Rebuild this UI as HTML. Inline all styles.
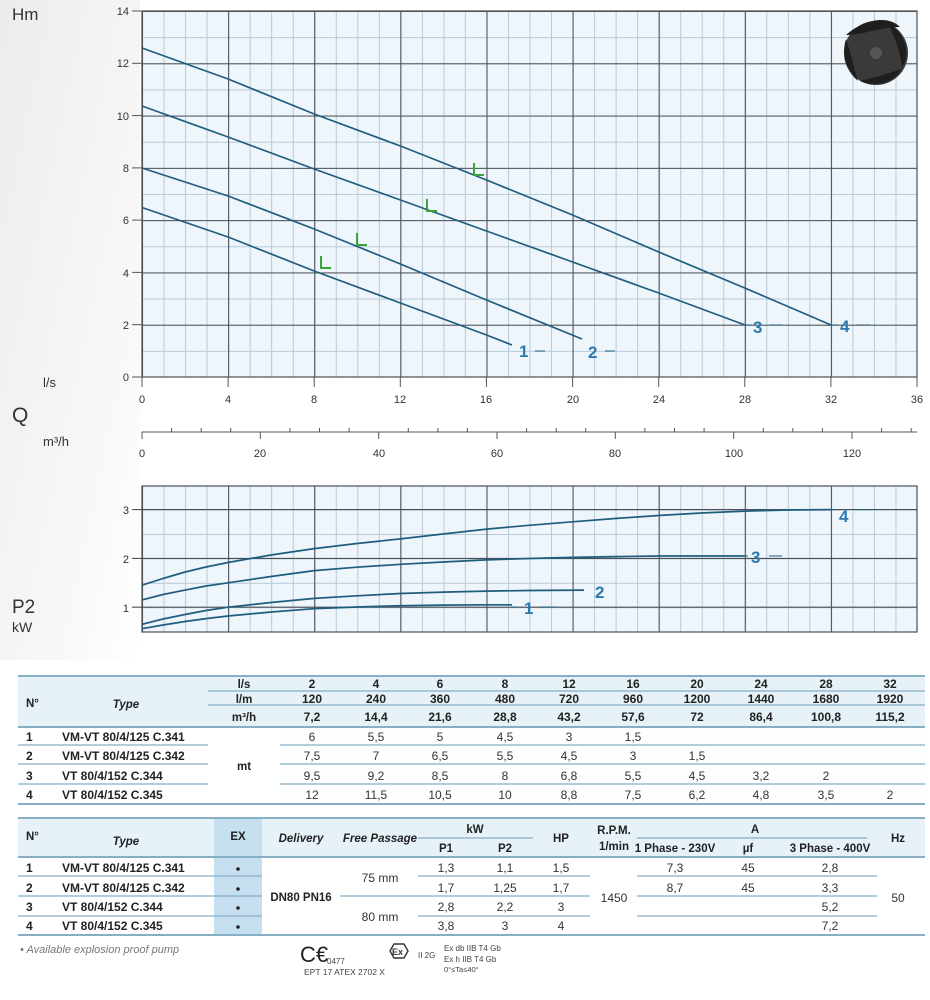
<!DOCTYPE html>
<html><head><meta charset="utf-8"><style>
html,body{margin:0;padding:0;background:#fff;}
svg{display:block;font-family:"Liberation Sans",sans-serif;}
.t{font-size:11px;fill:#333}
.b{font-weight:bold;font-size:12px;fill:#222}
.h{font-weight:bold;font-size:11.5px;fill:#222}
.n{font-size:12px;fill:#333}
.lab{font-weight:bold;font-size:17px;fill:#2a7ab0}
</style></head><body>
<svg width="930" height="1000" viewBox="0 0 930 1000">
<defs>
<linearGradient id="bg" x1="0" y1="0" x2="1" y2="1">
<stop offset="0" stop-color="#ececec"/><stop offset="0.7" stop-color="#f8f8f8"/><stop offset="1" stop-color="#ffffff"/></linearGradient>
<pattern id="mv" x="142" y="0" width="21.528" height="20" patternUnits="userSpaceOnUse"><line x1="0.5" y1="0" x2="0.5" y2="20" stroke="#b7cad8" stroke-width="1"/></pattern>
<pattern id="Mv" x="142" y="0" width="86.111" height="20" patternUnits="userSpaceOnUse"><line x1="0.5" y1="0" x2="0.5" y2="20" stroke="#4a4f55" stroke-width="1.1"/></pattern>
<pattern id="mh" x="0" y="11" width="20" height="26.143" patternUnits="userSpaceOnUse"><line x1="0" y1="0.5" x2="20" y2="0.5" stroke="#b7cad8" stroke-width="1"/></pattern>
<pattern id="Mh" x="0" y="11" width="20" height="52.286" patternUnits="userSpaceOnUse"><line x1="0" y1="0.5" x2="20" y2="0.5" stroke="#4a4f55" stroke-width="1.1"/></pattern>
<pattern id="mh2" x="0" y="485.2" width="20" height="24.4" patternUnits="userSpaceOnUse"><line x1="0" y1="0.5" x2="20" y2="0.5" stroke="#b7cad8" stroke-width="1"/></pattern>
</defs>
<rect x="0" y="0" width="140" height="660" fill="url(#bg)"/>

<!-- TOP CHART -->
<rect x="142" y="11" width="775" height="366" fill="#eef5fb"/>
<rect x="142" y="11" width="775" height="366" fill="url(#mv)"/>
<rect x="142" y="11" width="775" height="366" fill="url(#mh)"/>
<rect x="142" y="11" width="775" height="366" fill="url(#Mv)"/>
<rect x="142" y="11" width="775" height="366" fill="url(#Mh)"/>
<rect x="142" y="11" width="775" height="366" fill="none" stroke="#4a4f55" stroke-width="1.2"/>
<g stroke="#555" stroke-width="1">
<line x1="132" y1="11" x2="142" y2="11"/><line x1="132" y1="63.3" x2="142" y2="63.3"/><line x1="132" y1="115.6" x2="142" y2="115.6"/><line x1="132" y1="167.9" x2="142" y2="167.9"/><line x1="132" y1="220.1" x2="142" y2="220.1"/><line x1="132" y1="272.4" x2="142" y2="272.4"/><line x1="132" y1="324.7" x2="142" y2="324.7"/><line x1="132" y1="377" x2="142" y2="377"/>
<line x1="142" y1="377" x2="142" y2="387"/><line x1="228.1" y1="377" x2="228.1" y2="387"/><line x1="314.2" y1="377" x2="314.2" y2="387"/><line x1="400.3" y1="377" x2="400.3" y2="387"/><line x1="486.4" y1="377" x2="486.4" y2="387"/><line x1="572.6" y1="377" x2="572.6" y2="387"/><line x1="658.7" y1="377" x2="658.7" y2="387"/><line x1="744.8" y1="377" x2="744.8" y2="387"/><line x1="830.9" y1="377" x2="830.9" y2="387"/><line x1="917" y1="377" x2="917" y2="387"/>
</g>
<g class="t" text-anchor="end">
<text x="129" y="15">14</text><text x="129" y="67">12</text><text x="129" y="120">10</text><text x="129" y="172">8</text><text x="129" y="224">6</text><text x="129" y="277">4</text><text x="129" y="329">2</text><text x="129" y="381">0</text>
</g>
<g class="t" text-anchor="middle">
<text x="142" y="403">0</text><text x="228" y="403">4</text><text x="314" y="403">8</text><text x="400" y="403">12</text><text x="486" y="403">16</text><text x="573" y="403">20</text><text x="659" y="403">24</text><text x="745" y="403">28</text><text x="831" y="403">32</text><text x="917" y="403">36</text>
</g>
<text x="12" y="20" font-size="17" fill="#333">Hm</text>
<text x="43" y="387" font-size="13" fill="#333">l/s</text>
<text x="12" y="422" font-size="21" fill="#333">Q</text>
<text x="43" y="446" font-size="13" fill="#333">m³/h</text>

<g fill="none" stroke="#1f5d7e" stroke-width="1.7" stroke-linejoin="round">
<polyline points="142,48 228.1,79 314.2,114 400.4,146 486.5,180 572.6,215 658.7,252 744.8,288 831,325"/>
<polyline points="142,106 228.1,137 314.2,169 400.4,200 486.5,231 572.6,262 658.7,293 745,325"/>
<polyline points="142,168 228.1,196 314.2,229 400.4,264 486.5,300 582,339"/>
<polyline points="142,207.5 228.1,237 314.2,271 400.4,303 486.5,335 512,345"/>
</g>
<g stroke="#1f5d7e" stroke-width="1">
<line x1="831" y1="325" x2="838" y2="325"/><line x1="857" y1="325" x2="870" y2="325"/>
<line x1="745" y1="325" x2="752" y2="325"/><line x1="770" y1="325" x2="782" y2="325"/>
<line x1="535" y1="351" x2="545" y2="351"/><line x1="605" y1="351" x2="615" y2="351"/>
</g>
<text class="lab" x="840" y="332">4</text><text class="lab" x="753" y="333">3</text>
<text class="lab" x="588" y="358">2</text><text class="lab" x="519" y="357">1</text>
<g fill="none" stroke="#3aa33a" stroke-width="2">
<path d="M321,256 V268 H331"/><path d="M357,233 V245 H367"/><path d="M427,199 V211 H437"/><path d="M474,163 V175 H484"/>
</g>
<!-- impeller -->
<g transform="translate(876,53)">
<circle r="32" fill="#3a3a3a"/>
<path d="M-30,-18 C-12,-34 12,-38 24,-26 C4,-26 -12,-18 -30,-18Z" fill="#1e1e1e"/>
<path d="M12,-30 C32,-18 34,4 26,14 C24,-4 18,-16 12,-30Z" fill="#1e1e1e"/>
<path d="M26,16 C16,32 -4,34 -16,28 C0,24 14,20 26,16Z" fill="#1e1e1e"/>
<path d="M-18,28 C-32,16 -34,-2 -30,-14 C-24,4 -22,16 -18,28Z" fill="#1e1e1e"/>
<circle r="6" fill="#555"/>
</g>

<!-- m3/h axis -->
<line x1="142" y1="432" x2="917" y2="432" stroke="#555" stroke-width="1"/>
<g stroke="#555" stroke-width="1">
<line x1="142" y1="432" x2="142" y2="439"/><line x1="260.3" y1="432" x2="260.3" y2="439"/><line x1="378.7" y1="432" x2="378.7" y2="439"/><line x1="497" y1="432" x2="497" y2="439"/><line x1="615.3" y1="432" x2="615.3" y2="439"/><line x1="733.7" y1="432" x2="733.7" y2="439"/><line x1="852" y1="432" x2="852" y2="439"/>
<line x1="171.6" y1="428" x2="171.6" y2="432"/><line x1="201.2" y1="428" x2="201.2" y2="432"/><line x1="230.7" y1="428" x2="230.7" y2="432"/>
<line x1="289.9" y1="428" x2="289.9" y2="432"/><line x1="319.5" y1="428" x2="319.5" y2="432"/><line x1="349.1" y1="428" x2="349.1" y2="432"/>
<line x1="408.3" y1="428" x2="408.3" y2="432"/><line x1="437.9" y1="428" x2="437.9" y2="432"/><line x1="467.4" y1="428" x2="467.4" y2="432"/>
<line x1="526.6" y1="428" x2="526.6" y2="432"/><line x1="556.2" y1="428" x2="556.2" y2="432"/><line x1="585.7" y1="428" x2="585.7" y2="432"/>
<line x1="644.9" y1="428" x2="644.9" y2="432"/><line x1="674.5" y1="428" x2="674.5" y2="432"/><line x1="704.1" y1="428" x2="704.1" y2="432"/>
<line x1="763.3" y1="428" x2="763.3" y2="432"/><line x1="792.8" y1="428" x2="792.8" y2="432"/><line x1="822.4" y1="428" x2="822.4" y2="432"/>
<line x1="881.6" y1="428" x2="881.6" y2="432"/><line x1="911.2" y1="428" x2="911.2" y2="432"/>
</g>
<g class="t" text-anchor="middle">
<text x="142" y="457">0</text><text x="260" y="457">20</text><text x="379" y="457">40</text><text x="497" y="457">60</text><text x="615" y="457">80</text><text x="734" y="457">100</text><text x="852" y="457">120</text>
</g>

<!-- P2 CHART -->
<rect x="142" y="486" width="775" height="146" fill="#eef5fb"/>
<rect x="142" y="486" width="775" height="146" fill="url(#mv)"/>
<rect x="142" y="486" width="775" height="146" fill="url(#mh2)"/>
<rect x="142" y="486" width="775" height="146" fill="url(#Mv)"/>
<g stroke="#4a4f55" stroke-width="1.1">
<line x1="142" y1="509.6" x2="917" y2="509.6"/><line x1="142" y1="558.4" x2="917" y2="558.4"/><line x1="142" y1="607.2" x2="917" y2="607.2"/>
<line x1="132" y1="509.6" x2="142" y2="509.6"/><line x1="132" y1="558.4" x2="142" y2="558.4"/><line x1="132" y1="607.2" x2="142" y2="607.2"/>
</g>
<rect x="142" y="486" width="775" height="146" fill="none" stroke="#4a4f55" stroke-width="1.2"/>
<g class="t" text-anchor="end"><text x="129" y="514">3</text><text x="129" y="563">2</text><text x="129" y="612">1</text></g>
<text x="12" y="613" font-size="19" fill="#333">P2</text>
<text x="12" y="632" font-size="14" fill="#333">kW</text>
<g fill="none" stroke="#1f5d7e" stroke-width="1.7" stroke-linejoin="round">
<polyline points="142,585.2 163,578.5 185.1,572 206,567 228.1,562.5 271,555 314.2,548.6 357,543.5 400.4,538.9 443,534 486.5,529.1 529,525.3 572.6,521.8 615,518.5 658.7,515.5 701,513 744.8,511.1 788,510 831,509.6"/>
<polyline points="142,599.9 163,594.5 185.1,590.1 206,586 228.1,582.8 271,576.5 314.2,570.6 357,567.2 400.4,564.3 443,562 486.5,559.9 529,558.5 572.6,557.4 615,556.6 658.7,556 744.8,556"/>
<polyline points="142,624.3 163,619 185,614.5 206,610.5 228.1,607.2 271,602.5 314.2,598.4 357,595.8 400.4,593.5 443,592.1 486.5,591.1 529,590.5 584,590.1"/>
<polyline points="142,628.7 163,625 185,621.5 206,618.6 228.1,616 271,612 314.2,608.7 357,607 400.4,605.7 443,605.1 486.5,604.8 512,604.8"/>
</g>
<g stroke="#1f5d7e" stroke-width="1">
<line x1="831" y1="509.6" x2="836" y2="509.6"/><line x1="857" y1="509.6" x2="870" y2="509.6"/>
<line x1="745" y1="556" x2="748" y2="556"/><line x1="769" y1="556" x2="782" y2="556"/>
<line x1="512" y1="607" x2="517" y2="607"/><line x1="540" y1="607" x2="555" y2="607"/>
</g>
<text class="lab" x="839" y="522">4</text><text class="lab" x="751" y="563">3</text>
<text class="lab" x="595" y="598">2</text><text class="lab" x="524" y="614">1</text>

<!-- TABLE 1 -->
<rect x="18" y="676" width="907" height="51" fill="#e6f1f8"/>
<rect x="280" y="727" width="645" height="77" fill="#fdfeff"/>
<g stroke="#86aec4" stroke-width="1.3">
<line x1="18" y1="676" x2="925" y2="676" stroke-width="2"/>
<line x1="208" y1="691" x2="925" y2="691"/><line x1="208" y1="705" x2="925" y2="705"/>
<line x1="18" y1="727" x2="925" y2="727" stroke-width="2"/>
<line x1="18" y1="745" x2="208" y2="745"/><line x1="280" y1="745" x2="925" y2="745"/>
<line x1="18" y1="764" x2="208" y2="764"/><line x1="280" y1="764" x2="925" y2="764"/>
<line x1="18" y1="784" x2="208" y2="784"/><line x1="280" y1="784" x2="925" y2="784"/>
<line x1="18" y1="804" x2="925" y2="804" stroke-width="2"/>
</g>
<text class="h" x="26" y="707">N°</text><text class="h" x="126" y="708" text-anchor="middle" font-style="italic">Type</text>
<g class="h" text-anchor="middle">
<text x="244" y="688">l/s</text><text x="244" y="703">l/m</text><text x="244" y="721">m³/h</text>
<text x="244" y="770">mt</text>
</g>
<g class="b" text-anchor="middle">
<text x="312" y="688">2</text><text x="376" y="688">4</text><text x="440" y="688">6</text><text x="505" y="688">8</text><text x="569" y="688">12</text><text x="633" y="688">16</text><text x="697" y="688">20</text><text x="761" y="688">24</text><text x="826" y="688">28</text><text x="890" y="688">32</text>
<text x="312" y="703">120</text><text x="376" y="703">240</text><text x="440" y="703">360</text><text x="505" y="703">480</text><text x="569" y="703">720</text><text x="633" y="703">960</text><text x="697" y="703">1200</text><text x="761" y="703">1440</text><text x="826" y="703">1680</text><text x="890" y="703">1920</text>
<text x="312" y="721">7,2</text><text x="376" y="721">14,4</text><text x="440" y="721">21,6</text><text x="505" y="721">28,8</text><text x="569" y="721">43,2</text><text x="633" y="721">57,6</text><text x="697" y="721">72</text><text x="761" y="721">86,4</text><text x="826" y="721">100,8</text><text x="890" y="721">115,2</text>
</g>
<g class="b">
<text x="26" y="741">1</text><text x="62" y="741">VM-VT 80/4/125 C.341</text>
<text x="26" y="760">2</text><text x="62" y="760">VM-VT 80/4/125 C.342</text>
<text x="26" y="780">3</text><text x="62" y="780">VT 80/4/152 C.344</text>
<text x="26" y="799">4</text><text x="62" y="799">VT 80/4/152 C.345</text>
</g>
<g class="n" text-anchor="middle">
<text x="312" y="741">6</text><text x="376" y="741">5,5</text><text x="440" y="741">5</text><text x="505" y="741">4,5</text><text x="569" y="741">3</text><text x="633" y="741">1,5</text>
<text x="312" y="760">7,5</text><text x="376" y="760">7</text><text x="440" y="760">6,5</text><text x="505" y="760">5,5</text><text x="569" y="760">4,5</text><text x="633" y="760">3</text><text x="697" y="760">1,5</text>
<text x="312" y="780">9,5</text><text x="376" y="780">9,2</text><text x="440" y="780">8,5</text><text x="505" y="780">8</text><text x="569" y="780">6,8</text><text x="633" y="780">5,5</text><text x="697" y="780">4,5</text><text x="761" y="780">3,2</text><text x="826" y="780">2</text>
<text x="312" y="799">12</text><text x="376" y="799">11,5</text><text x="440" y="799">10,5</text><text x="505" y="799">10</text><text x="569" y="799">8,8</text><text x="633" y="799">7,5</text><text x="697" y="799">6,2</text><text x="761" y="799">4,8</text><text x="826" y="799">3,5</text><text x="890" y="799">2</text>
</g>

<!-- TABLE 2 -->
<rect x="18" y="818" width="907" height="39" fill="#e6f1f8"/>
<rect x="214" y="818" width="48" height="117" fill="#c7e0f1"/>
<g stroke="#86aec4" stroke-width="1.3">
<line x1="18" y1="818" x2="925" y2="818" stroke-width="2"/>
<line x1="418" y1="838" x2="533" y2="838"/><line x1="637" y1="838" x2="867" y2="838"/>
<line x1="18" y1="857" x2="925" y2="857" stroke-width="2"/>
<line x1="18" y1="876" x2="262" y2="876"/><line x1="418" y1="876" x2="590" y2="876"/><line x1="637" y1="876" x2="877" y2="876"/>
<line x1="18" y1="896" x2="262" y2="896"/><line x1="340" y1="896" x2="590" y2="896"/><line x1="637" y1="896" x2="877" y2="896"/>
<line x1="18" y1="916" x2="262" y2="916"/><line x1="418" y1="916" x2="590" y2="916"/><line x1="637" y1="916" x2="877" y2="916"/>
<line x1="18" y1="935" x2="925" y2="935" stroke-width="2"/>
</g>
<text class="h" x="26" y="840">N°</text><text class="h" x="126" y="845" text-anchor="middle" font-style="italic">Type</text>
<g class="h" text-anchor="middle">
<text x="238" y="840">EX</text>
<text x="301" y="842" font-style="italic">Delivery</text>
<text x="380" y="842" font-style="italic">Free Passage</text>
<text x="475" y="833">kW</text><text x="446" y="852">P1</text><text x="505" y="852">P2</text>
<text x="561" y="842">HP</text>
<text x="614" y="834">R.P.M.</text><text x="614" y="850">1/min</text>
<text x="755" y="833">A</text><text x="675" y="852">1 Phase - 230V</text><text x="748" y="852">µf</text><text x="830" y="852">3 Phase - 400V</text>
<text x="898" y="842">Hz</text>
</g>
<g class="b">
<text x="26" y="872">1</text><text x="62" y="872">VM-VT 80/4/125 C.341</text>
<text x="26" y="892">2</text><text x="62" y="892">VM-VT 80/4/125 C.342</text>
<text x="26" y="911">3</text><text x="62" y="911">VT 80/4/152 C.344</text>
<text x="26" y="930">4</text><text x="62" y="930">VT 80/4/152 C.345</text>
<text x="301" y="901" text-anchor="middle" font-size="11.5">DN80 PN16</text>
</g>
<g fill="#222"><circle cx="238" cy="869" r="1.8"/><circle cx="238" cy="889" r="1.8"/><circle cx="238" cy="908" r="1.8"/><circle cx="238" cy="927" r="1.8"/></g>
<g class="n" text-anchor="middle">
<text x="380" y="882">75 mm</text><text x="380" y="921">80 mm</text>
<text x="446" y="872">1,3</text><text x="505" y="872">1,1</text><text x="561" y="872">1,5</text>
<text x="446" y="892">1,7</text><text x="505" y="892">1,25</text><text x="561" y="892">1,7</text>
<text x="446" y="911">2,8</text><text x="505" y="911">2,2</text><text x="561" y="911">3</text>
<text x="446" y="930">3,8</text><text x="505" y="930">3</text><text x="561" y="930">4</text>
<text x="614" y="902">1450</text>
<text x="675" y="872">7,3</text><text x="748" y="872">45</text><text x="830" y="872">2,8</text>
<text x="675" y="892">8,7</text><text x="748" y="892">45</text><text x="830" y="892">3,3</text>
<text x="830" y="911">5,2</text><text x="830" y="930">7,2</text>
<text x="898" y="902">50</text>
</g>
<!-- footer -->
<text x="20" y="953" font-size="11" font-style="italic" fill="#777">•  Available explosion proof pump</text>
<text x="300" y="962" font-size="22" fill="#222">C€</text>
<text x="327" y="964" font-size="8" fill="#444">0477</text>
<text x="304" y="975" font-size="8.5" fill="#444">EPT 17 ATEX 2702 X</text>
<polygon points="390,951 394,944 404,944 408,951 404,958 394,958" fill="none" stroke="#333" stroke-width="1.4"/>
<text x="392" y="955" font-size="9" font-weight="bold" fill="#333">Ex</text>
<text x="418" y="958" font-size="8" fill="#444">II 2G</text>
<text x="444" y="951" font-size="8" fill="#444">Ex db IIB T4 Gb</text>
<text x="444" y="962" font-size="8" fill="#444">Ex h IIB T4 Gb</text>
<text x="444" y="972" font-size="7.5" fill="#444">0°≤Ta≤40°</text>
</svg>
</body></html>
